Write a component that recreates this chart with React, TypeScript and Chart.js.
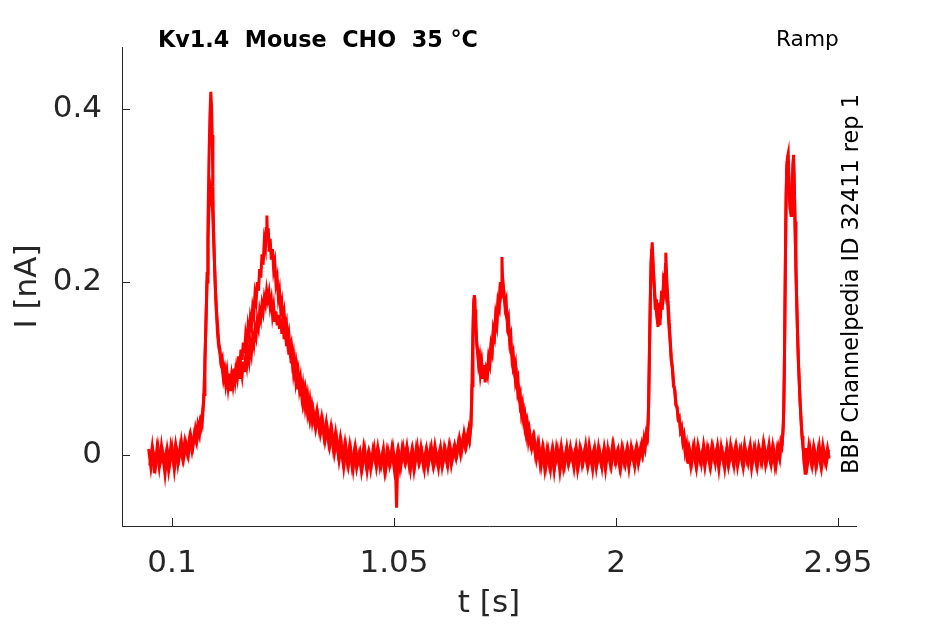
import { useEffect, useRef } from "react";
import { Chart, registerables, Plugin } from "chart.js";

Chart.register(...registerables);

// axis ticks
const xTicks = [0.1, 1.05, 2, 2.95];
const yTicks = [0, 0.2, 0.4];

// sweep 1, [t (s), I (nA)]
const sweep1: number[][] = [
  [0.0, 0.007], [0.01, -0.015], [0.02, 0.003], [0.03, -0.012], [0.04, 0.01], [0.05, -0.009], [0.06, 0.001],
  [0.07, -0.022], [0.08, 0.006], [0.09, -0.011], [0.1, 0.008], [0.11, -0.017], [0.12, 0.007], [0.13, -0.004],
  [0.14, 0.016], [0.15, -0.004], [0.16, 0.013], [0.17, 0.0], [0.18, 0.023], [0.19, 0.01], [0.2, 0.03],
  [0.205, 0.022], [0.21, 0.034], [0.215, 0.026], [0.22, 0.038], [0.225, 0.033], [0.23, 0.048], [0.235, 0.062],
  [0.24, 0.1], [0.245, 0.15], [0.25, 0.21], [0.254, 0.27], [0.258, 0.34], [0.262, 0.39], [0.266, 0.42],
  [0.269, 0.405], [0.272, 0.37], [0.275, 0.31], [0.278, 0.26], [0.282, 0.22], [0.286, 0.19], [0.29, 0.165],
  [0.295, 0.14], [0.3, 0.125], [0.305, 0.118], [0.31, 0.104], [0.315, 0.1], [0.32, 0.088], [0.325, 0.096],
  [0.33, 0.082], [0.335, 0.092], [0.34, 0.078], [0.345, 0.09], [0.35, 0.074], [0.355, 0.088], [0.36, 0.082],
  [0.365, 0.1], [0.37, 0.088], [0.375, 0.106], [0.38, 0.094], [0.385, 0.114], [0.39, 0.102], [0.395, 0.122],
  [0.4, 0.11], [0.405, 0.13], [0.41, 0.118], [0.415, 0.138], [0.42, 0.128], [0.425, 0.148], [0.43, 0.138],
  [0.435, 0.158], [0.44, 0.15], [0.445, 0.17], [0.45, 0.162], [0.455, 0.186], [0.46, 0.178], [0.465, 0.2],
  [0.47, 0.19], [0.475, 0.215], [0.48, 0.205], [0.485, 0.232], [0.49, 0.22], [0.495, 0.248], [0.5, 0.24],
  [0.503, 0.262], [0.506, 0.277], [0.509, 0.248], [0.512, 0.262], [0.516, 0.235], [0.52, 0.25], [0.525, 0.226],
  [0.53, 0.238], [0.535, 0.214], [0.54, 0.222], [0.545, 0.198], [0.55, 0.205], [0.555, 0.182], [0.56, 0.19],
  [0.565, 0.168], [0.57, 0.176], [0.575, 0.155], [0.58, 0.164], [0.585, 0.145], [0.59, 0.152], [0.595, 0.132],
  [0.6, 0.14], [0.605, 0.122], [0.61, 0.128], [0.615, 0.108], [0.62, 0.116], [0.625, 0.098], [0.63, 0.106],
  [0.635, 0.088], [0.64, 0.096], [0.645, 0.078], [0.65, 0.088], [0.655, 0.07], [0.66, 0.08], [0.665, 0.064],
  [0.67, 0.074], [0.675, 0.058], [0.68, 0.068], [0.685, 0.052], [0.69, 0.062], [0.695, 0.046], [0.7, 0.056],
  [0.71, 0.038], [0.72, 0.052], [0.73, 0.03], [0.74, 0.044], [0.75, 0.022], [0.76, 0.038], [0.77, 0.015],
  [0.78, 0.032], [0.79, 0.008], [0.8, 0.026], [0.81, 0.004], [0.82, 0.02], [0.83, -0.004], [0.84, 0.014],
  [0.85, -0.008], [0.86, 0.011], [0.87, -0.012], [0.88, 0.005], [0.89, -0.015], [0.9, 0.0], [0.91, -0.018],
  [0.92, 0.008], [0.93, -0.01], [0.94, 0.003], [0.95, -0.016], [0.96, 0.006], [0.97, -0.007], [0.98, 0.009],
  [0.99, -0.013], [1.0, 0.001], [1.01, -0.019], [1.02, 0.004], [1.03, -0.011], [1.04, 0.007], [1.05, -0.014],
  [1.055, -0.001], [1.061, -0.061], [1.066, -0.006], [1.07, 0.004], [1.08, -0.012], [1.09, 0.008], [1.1, -0.009],
  [1.11, 0.002], [1.12, -0.017], [1.13, 0.006], [1.14, -0.01], [1.15, 0.01], [1.16, -0.008], [1.17, 0.003],
  [1.18, -0.016], [1.19, 0.007], [1.2, -0.006], [1.21, 0.009], [1.22, -0.013], [1.23, 0.0], [1.24, -0.015],
  [1.25, 0.008], [1.26, -0.009], [1.27, 0.005], [1.28, -0.012], [1.29, 0.01], [1.3, -0.004], [1.31, 0.012],
  [1.32, 0.002], [1.33, 0.02], [1.34, 0.006], [1.35, 0.026], [1.36, 0.012], [1.37, 0.03], [1.375, 0.022],
  [1.38, 0.036], [1.384, 0.08], [1.388, 0.14], [1.391, 0.175], [1.394, 0.185], [1.397, 0.168], [1.4, 0.15],
  [1.404, 0.128], [1.408, 0.118], [1.412, 0.104], [1.416, 0.11], [1.42, 0.094], [1.425, 0.104], [1.43, 0.088],
  [1.435, 0.1], [1.44, 0.084], [1.445, 0.098], [1.45, 0.092], [1.455, 0.11], [1.46, 0.104], [1.465, 0.124],
  [1.47, 0.118], [1.475, 0.142], [1.48, 0.136], [1.485, 0.158], [1.49, 0.15], [1.495, 0.175], [1.5, 0.17],
  [1.505, 0.196], [1.508, 0.188], [1.512, 0.229], [1.515, 0.2], [1.52, 0.19], [1.525, 0.172], [1.53, 0.178],
  [1.535, 0.152], [1.54, 0.158], [1.545, 0.132], [1.55, 0.138], [1.555, 0.112], [1.56, 0.118], [1.565, 0.1],
  [1.57, 0.106], [1.575, 0.086], [1.58, 0.09], [1.585, 0.068], [1.59, 0.072], [1.595, 0.05], [1.6, 0.058],
  [1.605, 0.04], [1.61, 0.046], [1.615, 0.028], [1.62, 0.036], [1.625, 0.018], [1.63, 0.028], [1.64, 0.008],
  [1.65, 0.02], [1.66, -0.004], [1.67, 0.012], [1.68, -0.012], [1.69, 0.006], [1.7, -0.014], [1.71, 0.004],
  [1.72, -0.016], [1.73, 0.007], [1.74, -0.01], [1.75, 0.005], [1.76, -0.019], [1.77, 0.003], [1.78, -0.012],
  [1.79, 0.009], [1.8, -0.008], [1.81, 0.002], [1.82, -0.015], [1.83, 0.008], [1.84, -0.011], [1.85, 0.006],
  [1.86, -0.007], [1.87, 0.011], [1.88, -0.013], [1.89, 0.001], [1.9, -0.017], [1.91, 0.007], [1.92, -0.009],
  [1.93, 0.004], [1.94, -0.014], [1.95, 0.009], [1.96, -0.006], [1.97, 0.003], [1.98, -0.012], [1.99, 0.01],
  [2.0, -0.008], [2.01, 0.005], [2.02, -0.015], [2.03, 0.006], [2.04, -0.01], [2.05, 0.008], [2.06, -0.007],
  [2.07, 0.004], [2.08, -0.013], [2.09, 0.009], [2.1, -0.004], [2.11, 0.012], [2.115, 0.004], [2.12, 0.018],
  [2.125, 0.01], [2.13, 0.026], [2.135, 0.022], [2.14, 0.06], [2.145, 0.15], [2.15, 0.225], [2.155, 0.246],
  [2.16, 0.215], [2.165, 0.19], [2.17, 0.172], [2.175, 0.16], [2.18, 0.148], [2.185, 0.176], [2.19, 0.158],
  [2.195, 0.19], [2.2, 0.175], [2.205, 0.21], [2.21, 0.2], [2.213, 0.234], [2.217, 0.205], [2.222, 0.18],
  [2.227, 0.158], [2.232, 0.132], [2.237, 0.112], [2.242, 0.1], [2.247, 0.082], [2.252, 0.074], [2.257, 0.058],
  [2.262, 0.054], [2.267, 0.04], [2.272, 0.04], [2.277, 0.026], [2.282, 0.028], [2.287, 0.014], [2.292, 0.018],
  [2.297, 0.002], [2.3, 0.01], [2.305, -0.008], [2.31, 0.005], [2.32, -0.013], [2.33, 0.008], [2.34, -0.009],
  [2.35, 0.011], [2.36, -0.006], [2.37, 0.004], [2.38, -0.014], [2.39, 0.007], [2.4, -0.01], [2.41, 0.01],
  [2.42, -0.004], [2.43, 0.006], [2.44, -0.016], [2.45, 0.009], [2.46, -0.008], [2.47, 0.003], [2.48, -0.012],
  [2.49, 0.011], [2.5, -0.006], [2.51, 0.008], [2.52, -0.013], [2.53, 0.005], [2.54, -0.009], [2.55, 0.012],
  [2.56, -0.005], [2.57, 0.007], [2.58, -0.015], [2.59, 0.006], [2.6, -0.01], [2.61, 0.009], [2.62, -0.007],
  [2.63, 0.013], [2.64, -0.011], [2.65, 0.004], [2.66, -0.008], [2.67, 0.01], [2.68, -0.012], [2.69, 0.008],
  [2.7, -0.004], [2.705, 0.014], [2.71, 0.01], [2.714, 0.026], [2.718, 0.05], [2.722, 0.14], [2.726, 0.26],
  [2.73, 0.33], [2.734, 0.345], [2.737, 0.349], [2.741, 0.31], [2.745, 0.285], [2.749, 0.277], [2.753, 0.3],
  [2.757, 0.335], [2.76, 0.347], [2.764, 0.3], [2.768, 0.24], [2.772, 0.19], [2.776, 0.15], [2.78, 0.11],
  [2.784, 0.085], [2.788, 0.06], [2.792, 0.04], [2.796, 0.022], [2.8, 0.01], [2.805, -0.008], [2.809, -0.021],
  [2.813, 0.006], [2.82, -0.01], [2.83, 0.008], [2.84, -0.012], [2.85, 0.005], [2.86, -0.009], [2.87, 0.01],
  [2.88, -0.014], [2.89, 0.004], [2.9, -0.01], [2.91, 0.006],
];

// sweep 2, [t (s), I (nA)]
const sweep2: number[][] = [
  [0.005, -0.012], [0.015, 0.009], [0.025, -0.021], [0.035, 0.006], [0.045, -0.014], [0.055, 0.011],
  [0.065, -0.008], [0.075, 0.004], [0.085, -0.017], [0.095, 0.01], [0.105, -0.006], [0.115, 0.012],
  [0.125, -0.01], [0.135, 0.01], [0.145, -0.004], [0.155, 0.016], [0.165, 0.002], [0.175, 0.02],
  [0.185, 0.005], [0.195, 0.024], [0.205, 0.014], [0.212, 0.032], [0.218, 0.024], [0.224, 0.04],
  [0.229, 0.036], [0.233, 0.052], [0.237, 0.07], [0.241, 0.11], [0.245, 0.15], [0.25, 0.2], [0.254, 0.25],
  [0.258, 0.285], [0.262, 0.302], [0.266, 0.31], [0.27, 0.3], [0.274, 0.28], [0.278, 0.25], [0.282, 0.22],
  [0.286, 0.19], [0.29, 0.168], [0.295, 0.15], [0.3, 0.13], [0.305, 0.122], [0.31, 0.108], [0.315, 0.112],
  [0.32, 0.094], [0.325, 0.1], [0.33, 0.086], [0.335, 0.096], [0.34, 0.08], [0.345, 0.094], [0.35, 0.078],
  [0.355, 0.092], [0.36, 0.082], [0.365, 0.098], [0.37, 0.086], [0.375, 0.1], [0.38, 0.09], [0.385, 0.104],
  [0.39, 0.088], [0.395, 0.102], [0.4, 0.092], [0.405, 0.108], [0.41, 0.096], [0.415, 0.114], [0.42, 0.104],
  [0.425, 0.12], [0.43, 0.11], [0.435, 0.128], [0.44, 0.118], [0.445, 0.136], [0.45, 0.128], [0.455, 0.146],
  [0.46, 0.138], [0.465, 0.156], [0.47, 0.148], [0.475, 0.166], [0.48, 0.158], [0.485, 0.174], [0.49, 0.166],
  [0.495, 0.182], [0.5, 0.175], [0.505, 0.19], [0.51, 0.18], [0.515, 0.188], [0.52, 0.172], [0.525, 0.18],
  [0.53, 0.162], [0.535, 0.172], [0.54, 0.154], [0.545, 0.166], [0.55, 0.15], [0.555, 0.162], [0.56, 0.146],
  [0.565, 0.158], [0.57, 0.14], [0.575, 0.152], [0.58, 0.134], [0.585, 0.146], [0.59, 0.126], [0.595, 0.138],
  [0.6, 0.116], [0.605, 0.128], [0.61, 0.106], [0.615, 0.116], [0.62, 0.096], [0.625, 0.106], [0.63, 0.086],
  [0.635, 0.096], [0.64, 0.076], [0.645, 0.088], [0.65, 0.068], [0.655, 0.08], [0.66, 0.062], [0.665, 0.072],
  [0.67, 0.056], [0.675, 0.066], [0.68, 0.05], [0.685, 0.06], [0.69, 0.044], [0.695, 0.054], [0.7, 0.04],
  [0.705, 0.05], [0.715, 0.03], [0.725, 0.044], [0.735, 0.024], [0.745, 0.038], [0.755, 0.016], [0.765, 0.03],
  [0.775, 0.01], [0.785, 0.026], [0.795, 0.002], [0.805, 0.018], [0.815, -0.006], [0.825, 0.012],
  [0.835, -0.014], [0.845, 0.008], [0.855, -0.012], [0.865, 0.006], [0.875, -0.016], [0.885, 0.009],
  [0.895, -0.008], [0.905, 0.004], [0.915, -0.013], [0.925, 0.006], [0.935, -0.018], [0.945, 0.002],
  [0.955, -0.009], [0.965, 0.008], [0.975, -0.014], [0.985, 0.003], [0.995, -0.011], [1.005, 0.007],
  [1.015, -0.016], [1.025, 0.005], [1.035, -0.008], [1.045, 0.009], [1.055, -0.012], [1.065, 0.004],
  [1.075, -0.015], [1.085, 0.008], [1.095, -0.006], [1.105, 0.01], [1.115, -0.012], [1.125, 0.004],
  [1.135, -0.017], [1.145, 0.007], [1.155, -0.008], [1.165, 0.009], [1.175, -0.011], [1.185, 0.003],
  [1.195, -0.014], [1.205, 0.006], [1.215, -0.009], [1.225, 0.011], [1.235, -0.006], [1.245, 0.005],
  [1.255, -0.013], [1.265, 0.008], [1.275, -0.007], [1.285, 0.01], [1.295, -0.011], [1.305, 0.006],
  [1.315, -0.004], [1.325, 0.014], [1.335, 0.0], [1.345, 0.018], [1.355, 0.008], [1.365, 0.024],
  [1.372, 0.016], [1.378, 0.032], [1.382, 0.06], [1.386, 0.12], [1.39, 0.17], [1.393, 0.182], [1.396, 0.172],
  [1.4, 0.152], [1.404, 0.13], [1.408, 0.12], [1.412, 0.108], [1.416, 0.114], [1.42, 0.098], [1.425, 0.108],
  [1.43, 0.092], [1.435, 0.104], [1.44, 0.088], [1.445, 0.1], [1.45, 0.096], [1.455, 0.114], [1.46, 0.108],
  [1.465, 0.128], [1.47, 0.122], [1.475, 0.146], [1.48, 0.14], [1.485, 0.162], [1.49, 0.154], [1.495, 0.178],
  [1.5, 0.172], [1.505, 0.2], [1.51, 0.19], [1.515, 0.205], [1.52, 0.184], [1.525, 0.176], [1.53, 0.162],
  [1.535, 0.156], [1.54, 0.14], [1.545, 0.136], [1.55, 0.118], [1.555, 0.116], [1.56, 0.1], [1.565, 0.104],
  [1.57, 0.084], [1.575, 0.09], [1.58, 0.07], [1.585, 0.074], [1.59, 0.056], [1.595, 0.06], [1.6, 0.044],
  [1.605, 0.05], [1.61, 0.032], [1.615, 0.038], [1.62, 0.022], [1.625, 0.03], [1.635, 0.012], [1.645, 0.022],
  [1.655, 0.0], [1.665, 0.014], [1.675, -0.01], [1.685, 0.008], [1.695, -0.016], [1.705, 0.006],
  [1.715, -0.012], [1.725, 0.004], [1.735, -0.018], [1.745, 0.008], [1.755, -0.007], [1.765, 0.01],
  [1.775, -0.014], [1.785, 0.003], [1.795, -0.01], [1.805, 0.009], [1.815, -0.006], [1.825, 0.005],
  [1.835, -0.016], [1.845, 0.007], [1.855, -0.011], [1.865, 0.004], [1.875, -0.009], [1.885, 0.012],
  [1.895, -0.005], [1.905, 0.006], [1.915, -0.014], [1.925, 0.009], [1.935, -0.008], [1.945, 0.003],
  [1.955, -0.017], [1.965, 0.007], [1.975, -0.01], [1.985, 0.011], [1.995, -0.006], [2.005, 0.004],
  [2.015, -0.013], [2.025, 0.008], [2.035, -0.009], [2.045, 0.005], [2.055, -0.015], [2.065, 0.009],
  [2.075, -0.006], [2.085, 0.007], [2.095, -0.01], [2.105, 0.008], [2.112, 0.0], [2.118, 0.014],
  [2.123, 0.008], [2.128, 0.022], [2.133, 0.018], [2.138, 0.04], [2.143, 0.12], [2.148, 0.2], [2.153, 0.238],
  [2.158, 0.222], [2.163, 0.196], [2.168, 0.168], [2.173, 0.18], [2.178, 0.152], [2.183, 0.168], [2.188, 0.15],
  [2.193, 0.18], [2.198, 0.168], [2.203, 0.198], [2.208, 0.19], [2.212, 0.222], [2.216, 0.198], [2.221, 0.176],
  [2.226, 0.15], [2.231, 0.134], [2.236, 0.11], [2.241, 0.1], [2.246, 0.08], [2.251, 0.076], [2.256, 0.058],
  [2.261, 0.056], [2.266, 0.042], [2.271, 0.044], [2.276, 0.028], [2.281, 0.032], [2.286, 0.016],
  [2.291, 0.022], [2.296, 0.004], [2.302, 0.012], [2.308, -0.01], [2.315, 0.006], [2.325, -0.008],
  [2.335, 0.01], [2.345, -0.014], [2.355, 0.005], [2.365, -0.01], [2.375, 0.012], [2.385, -0.005],
  [2.395, 0.006], [2.405, -0.013], [2.415, 0.008], [2.425, -0.009], [2.435, 0.011], [2.445, -0.006],
  [2.455, 0.004], [2.465, -0.015], [2.475, 0.009], [2.485, -0.008], [2.495, 0.006], [2.505, -0.012],
  [2.515, 0.01], [2.525, -0.005], [2.535, 0.007], [2.545, -0.014], [2.555, 0.004], [2.565, -0.009],
  [2.575, 0.011], [2.585, -0.007], [2.595, 0.008], [2.605, -0.013], [2.615, 0.005], [2.625, -0.008],
  [2.635, 0.01], [2.645, -0.006], [2.655, 0.012], [2.665, -0.01], [2.675, 0.006], [2.685, -0.012],
  [2.695, 0.009], [2.702, 0.0], [2.708, 0.018], [2.712, 0.016], [2.716, 0.034], [2.72, 0.09], [2.724, 0.2],
  [2.728, 0.3], [2.732, 0.338], [2.736, 0.34], [2.74, 0.318], [2.744, 0.29], [2.748, 0.28], [2.752, 0.292],
  [2.756, 0.325], [2.759, 0.342], [2.762, 0.322], [2.766, 0.27], [2.77, 0.215], [2.774, 0.17], [2.778, 0.13],
  [2.782, 0.1], [2.786, 0.072], [2.79, 0.05], [2.794, 0.03], [2.798, 0.016], [2.803, 0.002], [2.807, -0.014],
  [2.811, 0.008], [2.816, -0.012], [2.825, 0.01], [2.835, -0.008], [2.845, 0.009], [2.855, -0.013],
  [2.865, 0.006], [2.875, -0.01], [2.885, 0.011], [2.895, -0.007], [2.905, 0.008], [2.912, -0.004],
];

const AXIS = "#262626";
const FONT = '"DejaVu Sans", sans-serif';

// matlab style: ticks point into the plot, plus the loose text labels
const decorations: Plugin<"scatter"> = {
  id: "decorations",
  afterDraw(chart) {
    const { ctx, chartArea, scales } = chart;
    ctx.save();
    ctx.strokeStyle = AXIS;
    ctx.lineWidth = 1;
    ctx.beginPath();
    for (const v of xTicks) {
      const px = Math.round(scales.x.getPixelForValue(v)) + 0.5;
      ctx.moveTo(px, chartArea.bottom);
      ctx.lineTo(px, chartArea.bottom - 8);
    }
    for (const v of yTicks) {
      const py = Math.round(scales.y.getPixelForValue(v)) + 0.5;
      ctx.moveTo(chartArea.left, py);
      ctx.lineTo(chartArea.left + 8, py);
    }
    ctx.stroke();

    ctx.fillStyle = "#000";
    ctx.textBaseline = "alphabetic";
    ctx.textAlign = "left";
    ctx.font = `bold 22.3px ${FONT}`;
    ctx.fillText("Kv1.4  Mouse  CHO  35 °C", chartArea.left + 36, 46.5);
    ctx.font = `21.7px ${FONT}`;
    ctx.fillText("Ramp", chartArea.right - 80, 46);

    ctx.font = `22.4px ${FONT}`;
    ctx.translate(chartArea.right + 1.5, chartArea.bottom - 52);
    ctx.rotate(-Math.PI / 2);
    ctx.fillText("BBP Channelpedia ID 32411 rep 1", 0, 0);
    ctx.restore();
  },
};

function toPoints(rows: number[][]) {
  return rows.map(([t, i]) => ({ x: t, y: i }));
}

export default function App() {
  const canvasRef = useRef<HTMLCanvasElement>(null);

  useEffect(() => {
    const chart = new Chart(canvasRef.current!, {
      type: "scatter",
      data: {
        datasets: [sweep1, sweep2].map((rows) => ({
          data: toPoints(rows),
          showLine: true,
          borderColor: "#ff0000",
          backgroundColor: "#ff0000",
          borderWidth: 3,
          pointRadius: 0,
          tension: 0,
        })),
      },
      options: {
        responsive: false,
        animation: false,
        layout: { padding: { top: 47, right: 89, left: 0, bottom: 0 } },
        plugins: {
          legend: { display: false },
          tooltip: { enabled: false },
        },
        scales: {
          x: {
            type: "linear",
            min: -0.114,
            max: 3.027,
            afterBuildTicks: (scale) => {
              scale.ticks = xTicks.map((v) => ({ value: v }));
            },
            afterFit: (scale) => {
              scale.height = 98;
            },
            grid: { display: false },
            border: { display: true, color: AXIS, width: 1 },
            ticks: {
              autoSkip: false,
              maxRotation: 0,
              padding: 11,
              color: AXIS,
              font: { family: FONT, size: 31 },
              callback: (v) => String(v),
            },
            title: {
              display: true,
              text: "t [s]",
              color: AXIS,
              font: { family: FONT, size: 31 },
              padding: { top: 0, bottom: 1 },
            },
          },
          y: {
            type: "linear",
            min: -0.082,
            max: 0.4717,
            afterBuildTicks: (scale) => {
              scale.ticks = yTicks.map((v) => ({ value: v }));
            },
            afterFit: (scale) => {
              scale.width = 122;
            },
            grid: { display: false },
            border: { display: true, color: AXIS, width: 1 },
            ticks: {
              padding: 12,
              color: AXIS,
              font: { family: FONT, size: 31 },
              callback: (v) => String(v),
            },
            title: {
              display: true,
              text: "I [nA]",
              color: AXIS,
              font: { family: FONT, size: 31 },
              padding: { top: 9, bottom: 0 },
            },
          },
        },
      },
      plugins: [decorations],
    });
    return () => {
      chart.destroy();
    };
  }, []);

  return (
    <div style={{ position: "fixed", left: 0, top: 0, width: 945, height: 624, background: "#fff" }}>
      <canvas ref={canvasRef} width={945} height={624} style={{ width: 945, height: 624 }} />
    </div>
  );
}
